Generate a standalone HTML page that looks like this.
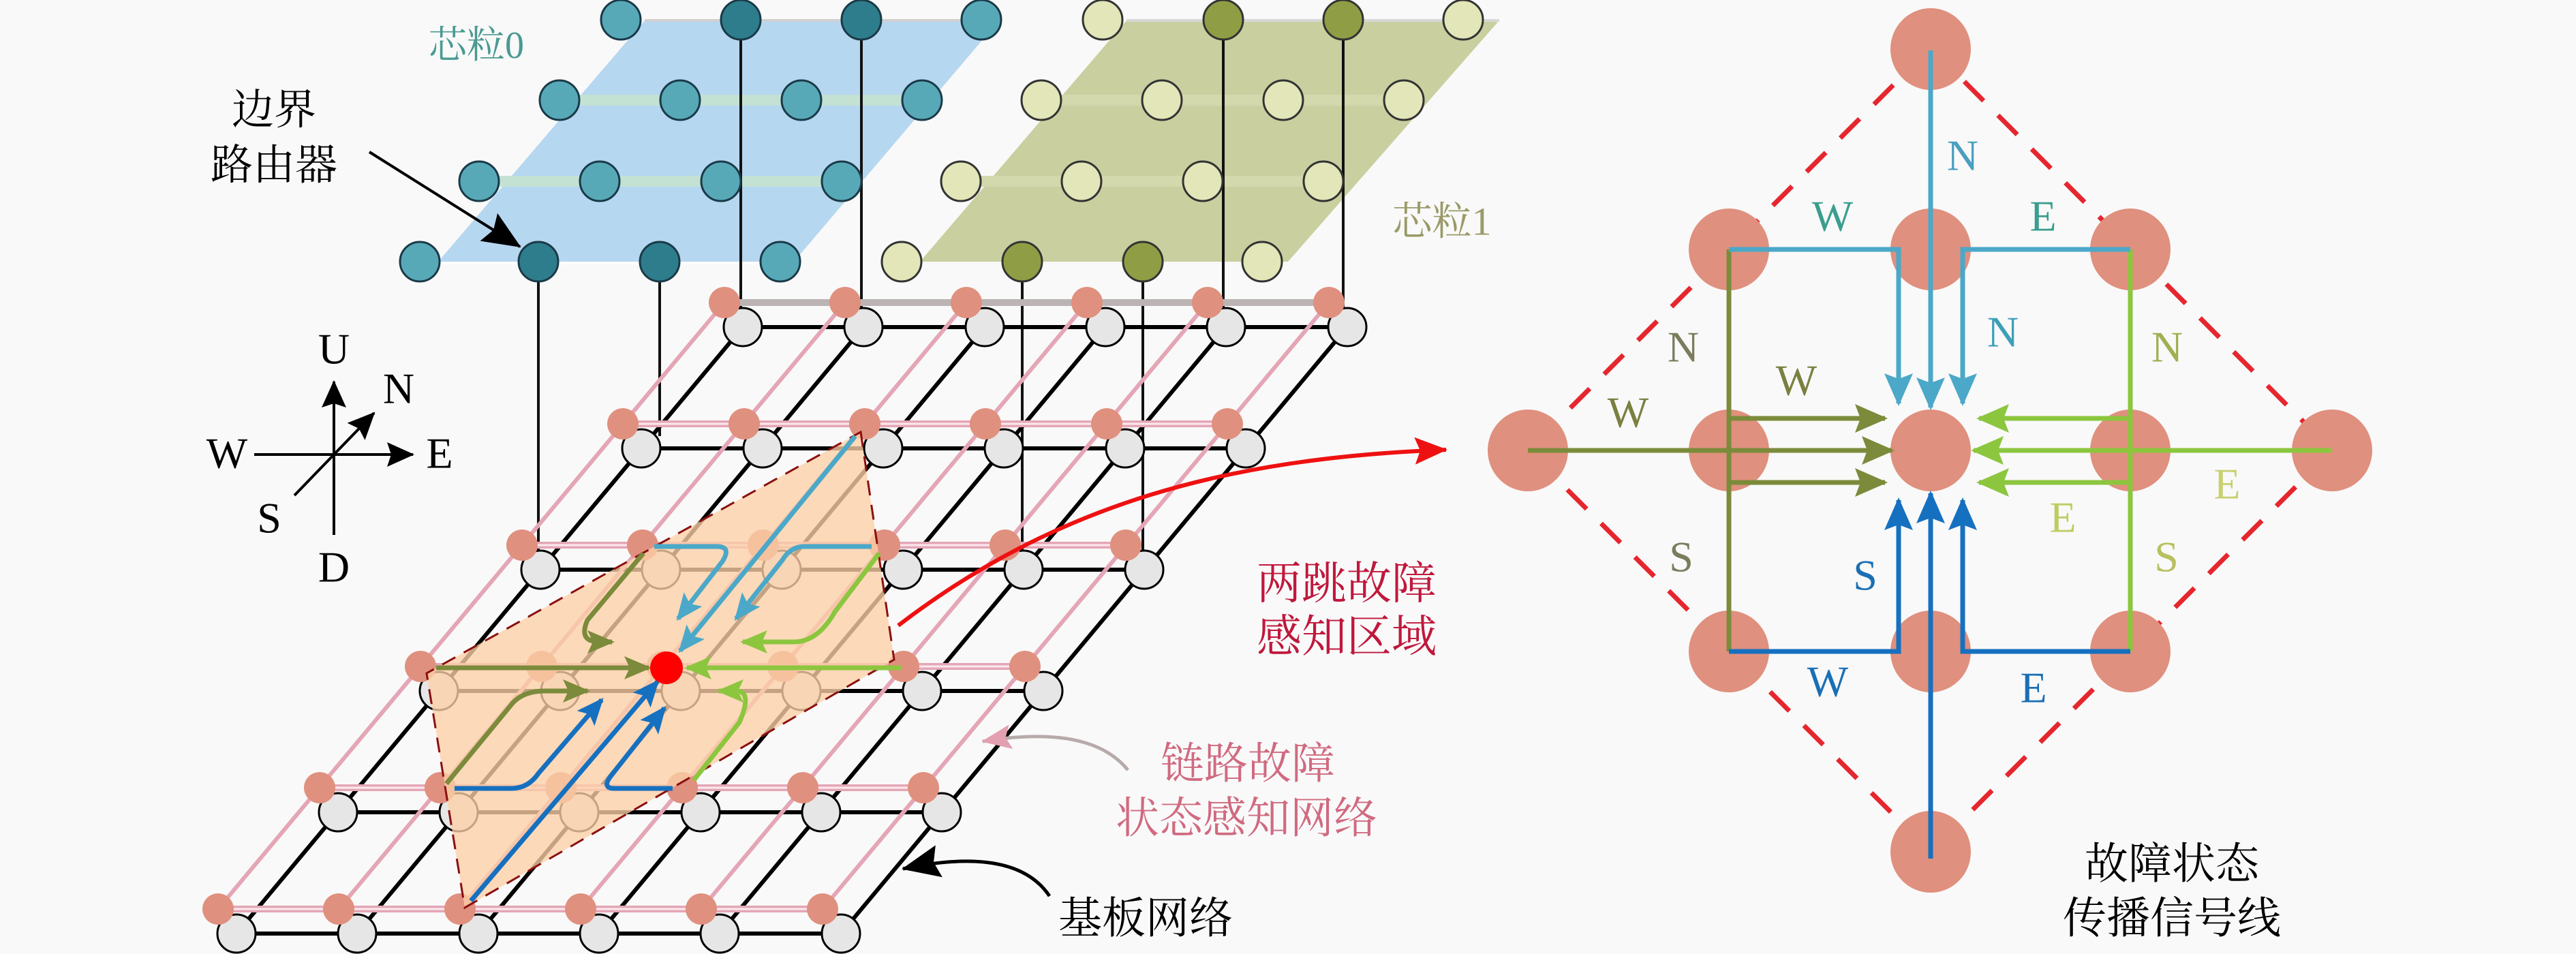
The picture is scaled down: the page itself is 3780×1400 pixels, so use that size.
<!DOCTYPE html>
<html><head><meta charset="utf-8"><style>
html,body{margin:0;padding:0;background:#f9f9f9;}
svg{display:block;}
.t{font-family:"Liberation Serif","Noto Serif CJK SC",serif;}
</style></head><body>
<svg width="3780" height="1400" viewBox="0 0 3780 1400" xmlns="http://www.w3.org/2000/svg">
<defs>
<marker id="aO" markerUnits="userSpaceOnUse" markerWidth="40" markerHeight="34" refX="36" refY="17" orient="auto"><path d="M0,0 L40,17 L0,34 L8,17 Z" fill="#7b8b3b"/></marker>
<marker id="aG" markerUnits="userSpaceOnUse" markerWidth="40" markerHeight="34" refX="36" refY="17" orient="auto"><path d="M0,0 L40,17 L0,34 L8,17 Z" fill="#8cc63f"/></marker>
<marker id="aC" markerUnits="userSpaceOnUse" markerWidth="40" markerHeight="34" refX="36" refY="17" orient="auto"><path d="M0,0 L40,17 L0,34 L8,17 Z" fill="#4ba8c8"/></marker>
<marker id="aB" markerUnits="userSpaceOnUse" markerWidth="40" markerHeight="34" refX="36" refY="17" orient="auto"><path d="M0,0 L40,17 L0,34 L8,17 Z" fill="#1670c0"/></marker>
<marker id="bO" markerUnits="userSpaceOnUse" markerWidth="48" markerHeight="42" refX="44" refY="21" orient="auto"><path d="M0,0 L48,21 L0,42 L8,21 Z" fill="#7b8b3b"/></marker>
<marker id="bG" markerUnits="userSpaceOnUse" markerWidth="48" markerHeight="42" refX="44" refY="21" orient="auto"><path d="M0,0 L48,21 L0,42 L8,21 Z" fill="#8cc63f"/></marker>
<marker id="bC" markerUnits="userSpaceOnUse" markerWidth="48" markerHeight="42" refX="44" refY="21" orient="auto"><path d="M0,0 L48,21 L0,42 L8,21 Z" fill="#4ba8c8"/></marker>
<marker id="bB" markerUnits="userSpaceOnUse" markerWidth="48" markerHeight="42" refX="44" refY="21" orient="auto"><path d="M0,0 L48,21 L0,42 L8,21 Z" fill="#1670c0"/></marker>
<marker id="aK" markerUnits="userSpaceOnUse" markerWidth="40" markerHeight="36" refX="38" refY="18" orient="auto"><path d="M0,0 L40,18 L0,36 L6,18 Z" fill="#000"/></marker>
<marker id="aK2" markerUnits="userSpaceOnUse" markerWidth="56" markerHeight="48" refX="54" refY="24" orient="auto"><path d="M0,0 L56,24 L0,48 L8,24 Z" fill="#000"/></marker>
<marker id="aR" markerUnits="userSpaceOnUse" markerWidth="48" markerHeight="40" refX="46" refY="20" orient="auto"><path d="M0,0 L48,20 L0,40 L8,20 Z" fill="#ee1111"/></marker>
<marker id="aP" markerUnits="userSpaceOnUse" markerWidth="44" markerHeight="36" refX="42" refY="18" orient="auto"><path d="M0,0 L44,18 L0,36 L8,18 Z" fill="#e3a0b0"/></marker>
</defs>

<!-- ===== Chiplet planes ===== -->
<polygon points="946,30 1466,30 1165,384 643,384" fill="#b6d7f0"/>
<line x1="946" y1="30" x2="1466" y2="30" stroke="#d0d0d0" stroke-width="4"/>
<line x1="643" y1="386" x2="1165" y2="386" stroke="#ffffff" stroke-width="4"/>
<line x1="821" y1="147" x2="1353" y2="147" stroke="#c3e2d4" stroke-width="16"/>
<line x1="703" y1="266" x2="1235" y2="266" stroke="#c3e2d4" stroke-width="16"/>
<polygon points="1653,30 2200,30 1890,384 1350,384" fill="#c9cf9f"/>
<line x1="1653" y1="30" x2="2200" y2="30" stroke="#d8d8d8" stroke-width="4"/>
<line x1="1528" y1="147" x2="2060" y2="147" stroke="#d3d8ad" stroke-width="16"/>
<line x1="1410" y1="266" x2="1942" y2="266" stroke="#d3d8ad" stroke-width="16"/>

<!-- chiplet vertical lines -->
<g stroke="#111" stroke-width="4">
<line x1="1087" y1="29" x2="1087" y2="452"/>
<line x1="1264" y1="29" x2="1264" y2="452"/>
<line x1="790" y1="384" x2="790" y2="808"/>
<line x1="968" y1="384" x2="968" y2="640"/>
<line x1="1795" y1="29" x2="1795" y2="452"/>
<line x1="1971" y1="29" x2="1971" y2="452"/>
<line x1="1500" y1="384" x2="1500" y2="808"/>
<line x1="1677" y1="384" x2="1677" y2="808"/>
</g>

<!-- chiplet nodes -->
<g stroke="#1a3a48" stroke-width="3">
<circle cx="911" cy="29" r="29" fill="#58a9b8"/><circle cx="1087" cy="29" r="29" fill="#2e7d8c"/><circle cx="1264" cy="29" r="29" fill="#2e7d8c"/><circle cx="1440" cy="29" r="29" fill="#58a9b8"/>
<circle cx="821" cy="147" r="29" fill="#58a9b8"/><circle cx="998" cy="147" r="29" fill="#58a9b8"/><circle cx="1176" cy="147" r="29" fill="#58a9b8"/><circle cx="1353" cy="147" r="29" fill="#58a9b8"/>
<circle cx="703" cy="266" r="29" fill="#58a9b8"/><circle cx="880" cy="266" r="29" fill="#58a9b8"/><circle cx="1058" cy="266" r="29" fill="#58a9b8"/><circle cx="1235" cy="266" r="29" fill="#58a9b8"/>
<circle cx="616" cy="384" r="29" fill="#58a9b8"/><circle cx="790" cy="384" r="29" fill="#2e7d8c"/><circle cx="968" cy="384" r="29" fill="#2e7d8c"/><circle cx="1145" cy="384" r="29" fill="#58a9b8"/>
</g>
<g stroke="#333" stroke-width="3">
<circle cx="1618" cy="29" r="29" fill="#e2e6b8"/><circle cx="1795" cy="29" r="29" fill="#8f9e45"/><circle cx="1971" cy="29" r="29" fill="#8f9e45"/><circle cx="2147" cy="29" r="29" fill="#e2e6b8"/>
<circle cx="1528" cy="147" r="29" fill="#e2e6b8"/><circle cx="1705" cy="147" r="29" fill="#e2e6b8"/><circle cx="1883" cy="147" r="29" fill="#e2e6b8"/><circle cx="2060" cy="147" r="29" fill="#e2e6b8"/>
<circle cx="1410" cy="266" r="29" fill="#e2e6b8"/><circle cx="1587" cy="266" r="29" fill="#e2e6b8"/><circle cx="1765" cy="266" r="29" fill="#e2e6b8"/><circle cx="1942" cy="266" r="29" fill="#e2e6b8"/>
<circle cx="1323" cy="384" r="29" fill="#e2e6b8"/><circle cx="1500" cy="384" r="29" fill="#8f9e45"/><circle cx="1677" cy="384" r="29" fill="#8f9e45"/><circle cx="1852" cy="384" r="29" fill="#e2e6b8"/>
</g>

<!-- ===== Substrate: black layer ===== -->
<g stroke="#000" stroke-width="6">
<line x1="1090" y1="480" x2="1977" y2="480"/>
<line x1="941" y1="658" x2="1828" y2="658"/>
<line x1="793" y1="836" x2="1679" y2="836"/>
<line x1="644" y1="1014" x2="1531" y2="1014"/>
<line x1="496" y1="1192" x2="1382" y2="1192"/>
<line x1="347" y1="1370" x2="1234" y2="1370"/>
<line x1="1090" y1="480" x2="347" y2="1370"/>
<line x1="1267" y1="480" x2="524" y2="1370"/>
<line x1="1445" y1="480" x2="702" y2="1370"/>
<line x1="1622" y1="480" x2="879" y2="1370"/>
<line x1="1799" y1="480" x2="1056" y2="1370"/>
<line x1="1977" y1="480" x2="1234" y2="1370"/>
</g>
<g fill="#e6e6e6" stroke="#000" stroke-width="3">
<circle cx="1090" cy="480" r="28"/><circle cx="1267" cy="480" r="28"/><circle cx="1445" cy="480" r="28"/><circle cx="1622" cy="480" r="28"/><circle cx="1799" cy="480" r="28"/><circle cx="1977" cy="480" r="28"/>
<circle cx="941" cy="658" r="28"/><circle cx="1119" cy="658" r="28"/><circle cx="1296" cy="658" r="28"/><circle cx="1473" cy="658" r="28"/><circle cx="1651" cy="658" r="28"/><circle cx="1828" cy="658" r="28"/>
<circle cx="793" cy="836" r="28"/><circle cx="970" cy="836" r="28"/><circle cx="1147" cy="836" r="28"/><circle cx="1325" cy="836" r="28"/><circle cx="1502" cy="836" r="28"/><circle cx="1679" cy="836" r="28"/>
<circle cx="644" cy="1014" r="28"/><circle cx="822" cy="1014" r="28"/><circle cx="999" cy="1014" r="28"/><circle cx="1176" cy="1014" r="28"/><circle cx="1353" cy="1014" r="28"/><circle cx="1531" cy="1014" r="28"/>
<circle cx="496" cy="1192" r="28"/><circle cx="673" cy="1192" r="28"/><circle cx="850" cy="1192" r="28"/><circle cx="1028" cy="1192" r="28"/><circle cx="1205" cy="1192" r="28"/><circle cx="1382" cy="1192" r="28"/>
<circle cx="347" cy="1370" r="28"/><circle cx="524" cy="1370" r="28"/><circle cx="702" cy="1370" r="28"/><circle cx="879" cy="1370" r="28"/><circle cx="1056" cy="1370" r="28"/><circle cx="1234" cy="1370" r="28"/>
</g>

<!-- pink layer -->
<g stroke="#e4a6b6" stroke-width="10">
<line x1="1063" y1="444" x2="1950" y2="444" stroke="#bcb4b4"/>
<line x1="914" y1="622" x2="1801" y2="622"/>
<line x1="766" y1="800" x2="1652" y2="800"/>
<line x1="617" y1="978" x2="1504" y2="978"/>
<line x1="469" y1="1156" x2="1355" y2="1156"/>
<line x1="320" y1="1334" x2="1207" y2="1334"/>
</g>
<g stroke="#fbe9ee" stroke-width="3">
<line x1="914" y1="622" x2="1801" y2="622"/>
<line x1="766" y1="800" x2="1652" y2="800"/>
<line x1="617" y1="978" x2="1504" y2="978"/>
<line x1="469" y1="1156" x2="1355" y2="1156"/>
<line x1="320" y1="1334" x2="1207" y2="1334"/>
</g>
<g stroke="#e4a6b6" stroke-width="6">
<line x1="1063" y1="444" x2="320" y2="1334"/>
<line x1="1240" y1="444" x2="497" y2="1334"/>
<line x1="1418" y1="444" x2="675" y2="1334"/>
<line x1="1595" y1="444" x2="852" y2="1334"/>
<line x1="1772" y1="444" x2="1029" y2="1334"/>
<line x1="1950" y1="444" x2="1207" y2="1334"/>
</g>
<g fill="#e0907e">
<circle cx="1063" cy="444" r="23"/><circle cx="1240" cy="444" r="23"/><circle cx="1418" cy="444" r="23"/><circle cx="1595" cy="444" r="23"/><circle cx="1772" cy="444" r="23"/><circle cx="1950" cy="444" r="23"/>
<circle cx="914" cy="622" r="23"/><circle cx="1092" cy="622" r="23"/><circle cx="1269" cy="622" r="23"/><circle cx="1446" cy="622" r="23"/><circle cx="1624" cy="622" r="23"/><circle cx="1801" cy="622" r="23"/>
<circle cx="766" cy="800" r="23"/><circle cx="943" cy="800" r="23"/><circle cx="1120" cy="800" r="23"/><circle cx="1298" cy="800" r="23"/><circle cx="1475" cy="800" r="23"/><circle cx="1652" cy="800" r="23"/>
<circle cx="617" cy="978" r="23"/><circle cx="795" cy="978" r="23"/><circle cx="972" cy="978" r="23"/><circle cx="1149" cy="978" r="23"/><circle cx="1326" cy="978" r="23"/><circle cx="1504" cy="978" r="23"/>
<circle cx="469" cy="1156" r="23"/><circle cx="646" cy="1156" r="23"/><circle cx="823" cy="1156" r="23"/><circle cx="1001" cy="1156" r="23"/><circle cx="1178" cy="1156" r="23"/><circle cx="1355" cy="1156" r="23"/>
<circle cx="320" cy="1334" r="23"/><circle cx="497" cy="1334" r="23"/><circle cx="675" cy="1334" r="23"/><circle cx="852" cy="1334" r="23"/><circle cx="1029" cy="1334" r="23"/><circle cx="1207" cy="1334" r="23"/>
</g>

<!-- peach two-hop region -->
<polygon points="1263,634 1312,968 682,1332 626,988" fill="#fdcfa6" fill-opacity="0.78" stroke="#8b1010" stroke-width="3" stroke-dasharray="22,14"/>

<!-- arrows left -->
<g fill="none" stroke-width="7" stroke-linejoin="round">
<path d="M640,980 L952,980" stroke="#7b8b3b" marker-end="url(#aO)"/>
<path d="M944,812 L862,910 Q848,942 880,942 L898,942" stroke="#7b8b3b" marker-end="url(#aO)"/>
<path d="M655,1150 L752,1032 Q768,1014 800,1014 L862,1014" stroke="#7b8b3b" marker-end="url(#aO)"/>
<path d="M1322,980 L1008,980" stroke="#8cc63f" marker-end="url(#aG)"/>
<path d="M1290,812 L1225,898 Q1200,942 1165,942 L1090,942" stroke="#8cc63f" marker-end="url(#aG)"/>
<path d="M1018,1145 L1085,1060 Q1105,1014 1080,1014 L1055,1014" stroke="#8cc63f" marker-end="url(#aG)"/>
<path d="M1255,640 L998,955" stroke="#4ba8c8" marker-end="url(#aC)"/>
<path d="M960,802 L1052,802 Q1074,802 1060,824 L995,908" stroke="#4ba8c8" marker-end="url(#aC)"/>
<path d="M1279,802 L1180,802 Q1160,802 1148,822 L1080,908" stroke="#4ba8c8" marker-end="url(#aC)"/>
<path d="M691,1322 L965,1000" stroke="#1670c0" marker-end="url(#aB)"/>
<path d="M667,1157 L750,1157 Q775,1157 790,1135 L883,1027" stroke="#1670c0" marker-end="url(#aB)"/>
<path d="M987,1157 L902,1157 Q882,1157 897,1138 L975,1039" stroke="#1670c0" marker-end="url(#aB)"/>
</g>
<circle cx="978" cy="980" r="24" fill="#ff0000"/>

<!-- big red arrow -->
<path d="M1318,918 C1550,740 1800,672 2122,660" fill="none" stroke="#ee1111" stroke-width="6" marker-end="url(#aR)"/>
<!-- pink pointer -->
<path d="M1655,1130 Q1600,1062 1442,1088" fill="none" stroke="#b8aaaa" stroke-width="5" marker-end="url(#aP)"/>
<!-- black pointer -->
<path d="M1540,1315 Q1490,1240 1325,1275" fill="none" stroke="#000" stroke-width="5" marker-end="url(#aK2)"/>
<!-- boundary router pointer -->
<line x1="542" y1="223" x2="763" y2="362" stroke="#000" stroke-width="4" marker-end="url(#aK2)"/>

<!-- compass -->
<g stroke="#000" stroke-width="4">
<line x1="490" y1="785" x2="490" y2="560" marker-end="url(#aK)"/>
<line x1="373" y1="667" x2="606" y2="667" marker-end="url(#aK)"/>
<line x1="432" y1="727" x2="549" y2="606" marker-end="url(#aK)"/>
</g>
<g class="t" font-size="64" fill="#000" text-anchor="middle" dominant-baseline="central">
<text x="490" y="512">U</text>
<text x="490" y="832">D</text>
<text x="333" y="665">W</text>
<text x="645" y="665">E</text>
<text x="585" y="570">N</text>
<text x="395" y="760">S</text>
</g>

<!-- left labels -->
<g class="t" text-anchor="middle" dominant-baseline="central">
<text x="402" y="162" font-size="62" fill="#000">边界</text>
<text x="402" y="243" font-size="62" fill="#000">路由器</text>
<text x="699" y="67" font-size="56" fill="#4a9a92">芯粒0</text>
<text x="2116" y="325" font-size="58" fill="#9a9a68">芯粒1</text>
<text x="1976" y="857" font-size="66" fill="#c0183c">两跳故障</text>
<text x="1976" y="935" font-size="66" fill="#c0183c">感知区域</text>
<text x="1831" y="1121" font-size="64" fill="#d06a80">链路故障</text>
<text x="1829" y="1201" font-size="64" fill="#d06a80">状态感知网络</text>
<text x="1681" y="1348" font-size="64" fill="#000">基板网络</text>
<text x="3187" y="1268" font-size="64" fill="#000">故障状态</text>
<text x="3187" y="1348" font-size="64" fill="#000">传播信号线</text>
</g>

<!-- ===== Right diagram ===== -->
<polygon points="2833,70 3422,661 2833,1250 2242,661" fill="none" stroke="#e6262e" stroke-width="7" stroke-dasharray="40,30"/>
<g fill="#e0907e">
<ellipse cx="2833" cy="72" rx="59" ry="60"/>
<ellipse cx="2537" cy="366" rx="59" ry="60"/><ellipse cx="2833" cy="366" rx="59" ry="60"/><ellipse cx="3126" cy="366" rx="59" ry="60"/>
<ellipse cx="2242" cy="661" rx="59" ry="60"/><ellipse cx="2537" cy="661" rx="59" ry="60"/><ellipse cx="2833" cy="661" rx="59" ry="60"/><ellipse cx="3126" cy="661" rx="59" ry="60"/><ellipse cx="3422" cy="661" rx="59" ry="60"/>
<ellipse cx="2537" cy="956" rx="59" ry="60"/><ellipse cx="2833" cy="956" rx="59" ry="60"/><ellipse cx="3126" cy="956" rx="59" ry="60"/>
<ellipse cx="2833" cy="1250" rx="59" ry="60"/>
</g>
<g fill="none" stroke-width="7">
<line x1="2537" y1="366" x2="2537" y2="956" stroke="#7b8b3b"/>
<line x1="3126" y1="366" x2="3126" y2="956" stroke="#8cc63f"/>
<path d="M2537,614 L2766,614" stroke="#7b8b3b" marker-end="url(#bO)"/>
<path d="M2242,661 L2776,661" stroke="#7b8b3b" marker-end="url(#bO)"/>
<path d="M2537,708 L2766,708" stroke="#7b8b3b" marker-end="url(#bO)"/>
<path d="M3126,614 L2904,614" stroke="#8cc63f" marker-end="url(#bG)"/>
<path d="M3422,661 L2896,661" stroke="#8cc63f" marker-end="url(#bG)"/>
<path d="M3126,708 L2904,708" stroke="#8cc63f" marker-end="url(#bG)"/>
<path d="M2833,74 L2833,598" stroke="#4ba8c8" marker-end="url(#bC)"/>
<path d="M2537,366 L2786,366 L2786,592" stroke="#4ba8c8" marker-end="url(#bC)"/>
<path d="M3126,366 L2880,366 L2880,592" stroke="#4ba8c8" marker-end="url(#bC)"/>
<path d="M2833,1260 L2833,724" stroke="#1670c0" marker-end="url(#bB)"/>
<path d="M2537,956 L2786,956 L2786,734" stroke="#1670c0" marker-end="url(#bB)"/>
<path d="M3126,956 L2880,956 L2880,734" stroke="#1670c0" marker-end="url(#bB)"/>
</g>
<g class="t" font-size="64" text-anchor="middle" dominant-baseline="central">
<text x="2880" y="228" fill="#4a9fc0">N</text>
<text x="2689" y="317" fill="#3a9e8e">W</text>
<text x="2998" y="317" fill="#3a9e8e">E</text>
<text x="2939" y="487" fill="#3e9fb8">N</text>
<text x="2470" y="509" fill="#7a7c5c">N</text>
<text x="2636" y="558" fill="#7a8040">W</text>
<text x="2389" y="605" fill="#7a8040">W</text>
<text x="3180" y="509" fill="#a0b050">N</text>
<text x="3268" y="710" fill="#c8d070">E</text>
<text x="3027" y="759" fill="#c0cc60">E</text>
<text x="2467" y="817" fill="#7a7c5c">S</text>
<text x="2737" y="844" fill="#1a6fb5">S</text>
<text x="3179" y="817" fill="#b8c060">S</text>
<text x="2682" y="1000" fill="#1a6fb5">W</text>
<text x="2984" y="1009" fill="#1a6fb5">E</text>
</g>
</svg>
</body></html>
